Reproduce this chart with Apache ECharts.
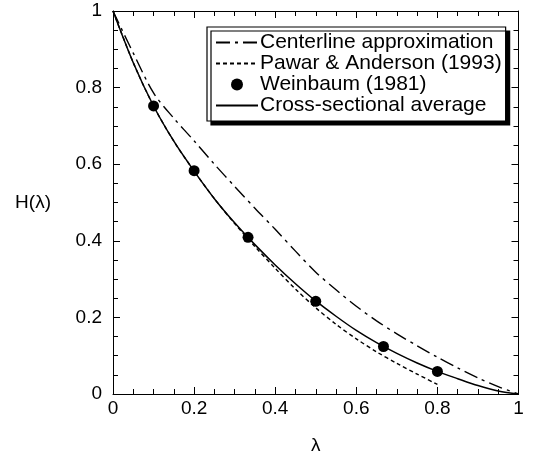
<!DOCTYPE html>
<html>
<head>
<meta charset="utf-8">
<script src="https://cdn.jsdelivr.net/npm/echarts@6/dist/echarts.min.js"></script>
<style>html,body{margin:0;padding:0;background:#fff}#c{width:535px;height:466px}</style>
</head>
<body>
<div id="c"></div>
<script>
// Data
var lambdaGrid = [0, 0.05, 0.1, 0.15, 0.2, 0.25, 0.3, 0.35, 0.4, 0.45, 0.5, 0.55, 0.6, 0.65, 0.7, 0.75, 0.8, 0.85, 0.9, 0.95, 1];
var centerline = [1, 0.89, 0.786, 0.72, 0.661, 0.6, 0.542, 0.485, 0.43, 0.373, 0.318, 0.272, 0.229, 0.191, 0.157, 0.126, 0.096, 0.068, 0.042, 0.019, 0];
var crossSectional = [1, 0.865, 0.752, 0.66, 0.582, 0.51, 0.447, 0.39, 0.337, 0.288, 0.243, 0.203, 0.166, 0.134, 0.106, 0.081, 0.059, 0.04, 0.022, 0.008, 0];
var pawarLambda = [0, 0.05, 0.1, 0.15, 0.2, 0.25, 0.3, 0.35, 0.4, 0.45, 0.5, 0.55, 0.6, 0.65, 0.7, 0.75, 0.8];
var pawar = [1, 0.865, 0.752, 0.66, 0.582, 0.51, 0.445, 0.385, 0.328, 0.274, 0.225, 0.182, 0.144, 0.11, 0.08, 0.052, 0.025];
var weinbaumLambda = [0.1, 0.2, 0.333, 0.5, 0.667, 0.8];
var weinbaum = [0.752, 0.583, 0.409, 0.242, 0.124, 0.059];
var xTicks = [0, 0.2, 0.4, 0.6, 0.8, 1];
var yTicks = [0, 0.2, 0.4, 0.6, 0.8, 1];
var seriesNames = ['Centerline approximation', 'Pawar & Anderson (1993)', 'Weinbaum (1981)', 'Cross-sectional average'];

function pairs(xs, ys) { return xs.map(function (x, i) { return [x, ys[i]]; }); }

var FONT = '"Liberation Sans", Arial, Helvetica, sans-serif';
var chart = echarts.init(document.getElementById('c'), null, { renderer: 'canvas' });

function makeAxis(opts) {
  var base = {
    type: 'value', min: xTicks[0], max: xTicks[xTicks.length - 1], interval: xTicks[1] - xTicks[0],
    axisLine: { show: true, onZero: false, lineStyle: { color: '#000', width: 1 } },
    axisTick: { show: true, inside: true, length: 7, lineStyle: { color: '#000', width: 1 } },
    minorTick: { show: true, splitNumber: 4, length: 5, lineStyle: { color: '#000', width: 1 } },
    splitLine: { show: false },
    axisLabel: { show: true, color: '#000', fontSize: 19, fontFamily: FONT }
  };
  return Object.assign(base, opts);
}

var hiddenSymbol = { opacity: 0, color: 'rgba(0,0,0,0)', borderWidth: 0 };

var option = {
  backgroundColor: '#fff',
  animation: false,
  grid: { left: 113, top: 11, right: 16.5, bottom: 72, outerBoundsMode: 'none', containLabel: false },
  legend: {
    orient: 'vertical', left: 207, top: 27,
    padding: [5, 4, 5, 8], itemGap: 0, itemWidth: 42, itemHeight: 12,
    backgroundColor: '#fff', borderColor: '#000', borderWidth: 1.2,
    shadowColor: '#000', shadowBlur: 0, shadowOffsetX: 4, shadowOffsetY: 4,
    textStyle: { color: '#000', fontSize: 21, lineHeight: 19, fontFamily: FONT, padding: [0, 0, 0, -3] },
    data: [
      { name: seriesNames[0], itemStyle: hiddenSymbol },
      { name: seriesNames[1], itemStyle: hiddenSymbol },
      { name: seriesNames[2] },
      { name: seriesNames[3], itemStyle: hiddenSymbol }
    ]
  },
  xAxis: [
    makeAxis({ position: 'bottom', name: 'λ', nameLocation: 'middle', nameGap: 42,
      nameTextStyle: { color: '#000', fontSize: 19, fontFamily: FONT },
      axisLabel: { show: true, color: '#000', fontSize: 19, fontFamily: FONT, margin: 5 } }),
    makeAxis({ position: 'top', axisLabel: { show: false } })
  ],
  yAxis: [
    makeAxis({ position: 'left', min: yTicks[0], max: yTicks[yTicks.length - 1], interval: yTicks[1] - yTicks[0],
      name: 'H(λ)', nameLocation: 'middle', nameRotate: 0, nameGap: 62,
      nameTextStyle: { color: '#000', fontSize: 19, fontFamily: FONT },
      axisLabel: { show: true, color: '#000', fontSize: 19, fontFamily: FONT, margin: 11 } }),
    makeAxis({ position: 'right', min: yTicks[0], max: yTicks[yTicks.length - 1], interval: yTicks[1] - yTicks[0],
      axisLabel: { show: false } })
  ],
  series: [
    { name: seriesNames[0], type: 'line', smooth: 0.3, symbol: 'none', data: pairs(lambdaGrid, centerline),
      lineStyle: { color: '#000', width: 1.4, type: [14, 5, 3, 5] }, itemStyle: { color: '#000' } },
    { name: seriesNames[1], type: 'line', smooth: 0.3, symbol: 'none', data: pairs(pawarLambda, pawar),
      lineStyle: { color: '#000', width: 1.4, type: [4, 3] }, itemStyle: { color: '#000' } },
    { name: seriesNames[2], type: 'scatter', symbol: 'circle', symbolSize: 11, data: pairs(weinbaumLambda, weinbaum),
      itemStyle: { color: '#000', opacity: 1 }, z: 5 },
    { name: seriesNames[3], type: 'line', smooth: 0.3, symbol: 'none', data: pairs(lambdaGrid, crossSectional),
      lineStyle: { color: '#000', width: 1.5, type: 'solid' }, itemStyle: { color: '#000' } }
  ]
};
chart.setOption(option);
</script>
</body>
</html>
